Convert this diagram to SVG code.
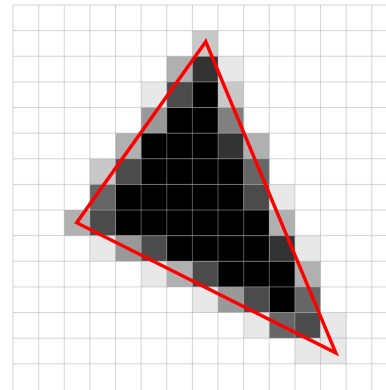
<svg xmlns="http://www.w3.org/2000/svg" width="386" height="390" viewBox="0 0 386 390">
<style>
.k{fill:#000}
.d3{fill:#333}
.d4{fill:#4b4b4b}
.d6{fill:#666}
.m8{fill:#808080}
.m9{fill:#999}
.lb{fill:#b0b0b0}
.lc{fill:#c8c8c8}
.le{fill:#e8e8e8}
.grid{fill:none;stroke:#aaa;stroke-opacity:0.5;stroke-width:1}
.tri{fill:none;stroke:#ff0000;stroke-width:3.5;stroke-linejoin:miter}
</style>
<rect width="386" height="390" fill="#fff"/>
<g id="pixels" transform="translate(13,5) scale(25.63)">
<rect class="lc" x="7" y="1" width="1" height="1"/>
<rect class="lb" x="6" y="2" width="1" height="1"/>
<rect class="d3" x="7" y="2" width="1" height="1"/>
<rect class="le" x="8" y="2" width="1" height="1"/>
<rect class="le" x="5" y="3" width="1" height="1"/>
<rect class="d4" x="6" y="3" width="1" height="1"/>
<rect class="k" x="7" y="3" width="1" height="1"/>
<rect class="lc" x="8" y="3" width="1" height="1"/>
<rect class="m9" x="5" y="4" width="1" height="1"/>
<rect class="k" x="6" y="4" width="2" height="1"/>
<rect class="m8" x="8" y="4" width="1" height="1"/>
<rect class="lb" x="4" y="5" width="1" height="1"/>
<rect class="k" x="5" y="5" width="3" height="1"/>
<rect class="d3" x="8" y="5" width="1" height="1"/>
<rect class="lb" x="9" y="5" width="1" height="1"/>
<rect class="lc" x="3" y="6" width="1" height="1"/>
<rect class="d4" x="4" y="6" width="1" height="1"/>
<rect class="k" x="5" y="6" width="4" height="1"/>
<rect class="d6" x="9" y="6" width="1" height="1"/>
<rect class="d6" x="3" y="7" width="1" height="1"/>
<rect class="k" x="4" y="7" width="5" height="1"/>
<rect class="d4" x="9" y="7" width="1" height="1"/>
<rect class="le" x="10" y="7" width="1" height="1"/>
<rect class="lb" x="2" y="8" width="1" height="1"/>
<rect class="d4" x="3" y="8" width="1" height="1"/>
<rect class="k" x="4" y="8" width="6" height="1"/>
<rect class="lb" x="10" y="8" width="1" height="1"/>
<rect class="le" x="3" y="9" width="1" height="1"/>
<rect class="m9" x="4" y="9" width="1" height="1"/>
<rect class="d4" x="5" y="9" width="1" height="1"/>
<rect class="k" x="6" y="9" width="4" height="1"/>
<rect class="d3" x="10" y="9" width="1" height="1"/>
<rect class="le" x="11" y="9" width="1" height="1"/>
<rect class="le" x="5" y="10" width="1" height="1"/>
<rect class="lb" x="6" y="10" width="1" height="1"/>
<rect class="d4" x="7" y="10" width="1" height="1"/>
<rect class="k" x="8" y="10" width="3" height="1"/>
<rect class="lb" x="11" y="10" width="1" height="1"/>
<rect class="le" x="7" y="11" width="1" height="1"/>
<rect class="m9" x="8" y="11" width="1" height="1"/>
<rect class="d4" x="9" y="11" width="1" height="1"/>
<rect class="k" x="10" y="11" width="1" height="1"/>
<rect class="d6" x="11" y="11" width="1" height="1"/>
<rect class="le" x="9" y="12" width="1" height="1"/>
<rect class="d6" x="10" y="12" width="1" height="1"/>
<rect class="d4" x="11" y="12" width="1" height="1"/>
<rect class="le" x="12" y="12" width="1" height="1"/>
<rect class="le" x="11" y="13" width="2" height="1"/>
<path class="grid" vector-effect="non-scaling-stroke" d="M0 0V15.1M1 0V15.1M2 0V15.1M3 0V15.1M4 0V15.1M5 0V15.1M6 0V15.1M7 0V15.1M8 0V15.1M9 0V15.1M10 0V15.1M11 0V15.1M12 0V15.1M13 0V15.1M14 0V15.1M0 0H14.6M0 1H14.6M0 2H14.6M0 3H14.6M0 4H14.6M0 5H14.6M0 6H14.6M0 7H14.6M0 8H14.6M0 9H14.6M0 10H14.6M0 11H14.6M0 12H14.6M0 13H14.6M0 14H14.6"/>
</g>
<polygon id="triangle" class="tri" points="205.7,41.7 76.7,222.7 335.7,352.7"/>
</svg>
